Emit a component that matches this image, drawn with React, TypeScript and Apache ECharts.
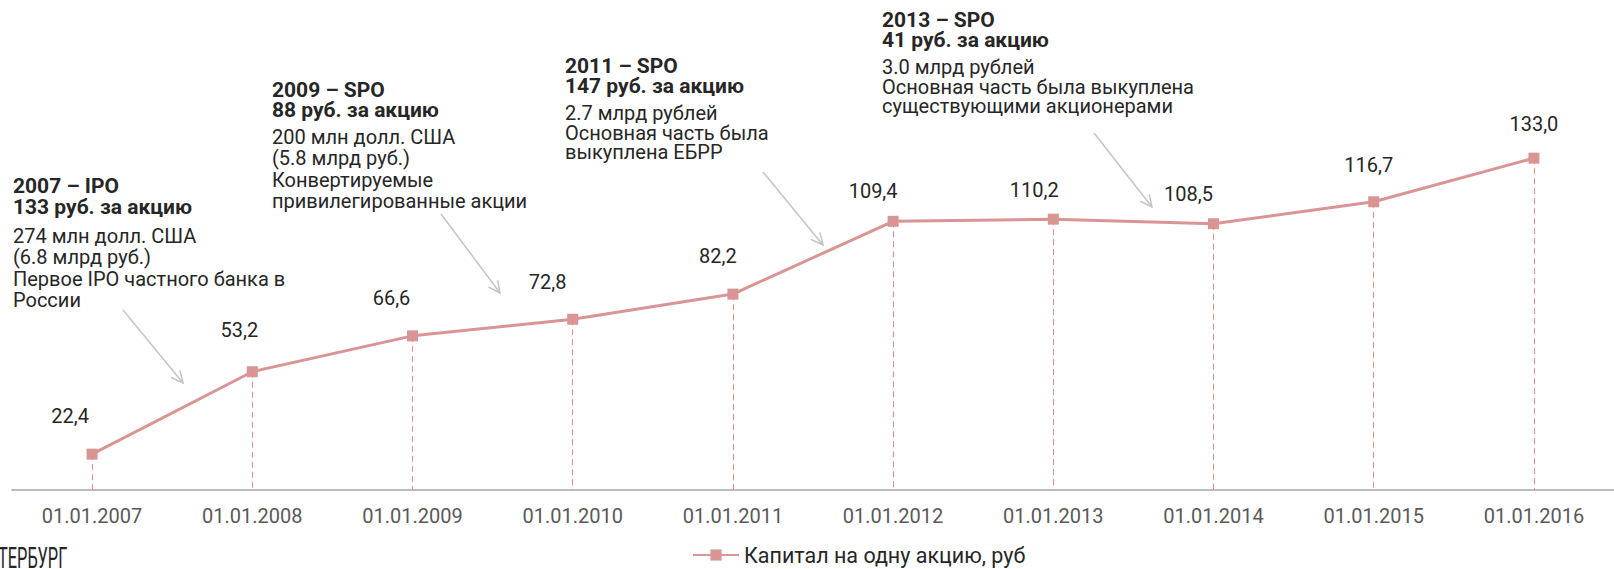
import React, { useEffect, useRef } from "react";
import * as echarts from "echarts";

const categories = [
  "01.01.2007", "01.01.2008", "01.01.2009", "01.01.2010", "01.01.2011",
  "01.01.2012", "01.01.2013", "01.01.2014", "01.01.2015", "01.01.2016",
];
const capitalPerShare = [22.4, 53.2, 66.6, 72.8, 82.2, 109.4, 110.2, 108.5, 116.7, 133.0];
const seriesName = "Капитал на одну акцию, руб";

const note2007Head = ["2007 – IPO", "133 руб. за акцию"];
const note2007Body = ["274 млн долл. США", "(6.8 млрд руб.)", "Первое IPO частного банка в", "России"];
const note2009Head = ["2009 – SPO", "88 руб. за акцию"];
const note2009Body = ["200 млн долл. США", "(5.8 млрд руб.)", "Конвертируемые", "привилегированные акции"];
const note2011Head = ["2011 – SPO", "147 руб. за акцию"];
const note2011Body = ["2.7 млрд рублей", "Основная часть была", "выкуплена ЕБРР"];
const note2013Head = ["2013 – SPO", "41 руб. за акцию"];
const note2013Body = ["3.0 млрд рублей", "Основная часть была выкуплена", "существующими акционерами"];
const footerText = "ТЕРБУРГ";

// layout (pixel positions) — not data
const labelOffsets: [number, number][] = [
  [-22, -38], [-13, -42], [-21, -38], [-25, -37], [-15, -38],
  [-20, -30], [-19, -29], [-25, -30], [-5, -37], [0, -34],
];
const notes = [
  { head: note2007Head, body: note2007Body, x: 13, y: 193, headLH: 21, bodyGap: 50, bodyLH: 21.3 },
  { head: note2009Head, body: note2009Body, x: 272, y: 97, headLH: 20, bodyGap: 47, bodyLH: 21.3 },
  { head: note2011Head, body: note2011Body, x: 565, y: 73, headLH: 20, bodyGap: 47, bodyLH: 19.5 },
  { head: note2013Head, body: note2013Body, x: 882, y: 27, headLH: 20, bodyGap: 47, bodyLH: 19.5 },
];
const arrows = [
  [123, 310, 183, 383],
  [441, 214, 500, 293],
  [763, 172, 823, 245],
  [1094, 133, 1152, 207],
];

const FONT = "Roboto, 'Noto Sans', sans-serif";
const LINE_COLOR = "#D99594";
const Y_MIN = 9;
const Y_MAX = 185;

function buildGraphics() {
  const els: any[] = [];
  notes.forEach((n) => {
    els.push({
      type: "text",
      x: n.x,
      y: n.y - 7 - n.headLH / 2,
      silent: true,
      style: {
        text: n.head.join("\n"),
        fontFamily: FONT,
        fontSize: 21,
        lineHeight: n.headLH,
        fontWeight: "bold",
        fill: "#262626",
        verticalAlign: "top",
        align: "left",
      },
    });
    els.push({
      type: "text",
      x: n.x,
      y: n.y + n.bodyGap - 7 - n.bodyLH / 2,
      silent: true,
      style: {
        text: n.body.join("\n"),
        fontFamily: FONT,
        fontSize: 20,
        lineHeight: n.bodyLH,
        fontWeight: "normal",
        fill: "#262626",
        verticalAlign: "top",
        align: "left",
      },
    });
  });
  arrows.forEach(([x1, y1, x2, y2]) => {
    const ang = Math.atan2(y2 - y1, x2 - x1);
    const len = 13;
    const spread = 0.45;
    const p1 = [x2 - len * Math.cos(ang - spread), y2 - len * Math.sin(ang - spread)];
    const p2 = [x2 - len * Math.cos(ang + spread), y2 - len * Math.sin(ang + spread)];
    els.push({
      type: "line",
      silent: true,
      shape: { x1, y1, x2, y2 },
      style: { stroke: "#C4C4C4", lineWidth: 1.5 },
    });
    els.push({
      type: "polyline",
      silent: true,
      shape: { points: [p1, [x2, y2], p2] },
      style: { stroke: "#C4C4C4", lineWidth: 1.5, fill: "none" },
    });
  });
  els.push({
    type: "text",
    x: -2,
    y: 543,
    scaleX: 0.78,
    scaleY: 1.4,
    silent: true,
    style: {
      text: footerText,
      fontFamily: FONT,
      fontSize: 21,
      fill: "#262626",
      verticalAlign: "top",
      align: "left",
    },
  });
  return els;
}

export default function App() {
  const ref = useRef<HTMLDivElement>(null);
  useEffect(() => {
    if (!ref.current) return;
    const chart = echarts.init(ref.current, null, { renderer: "svg" });
    const option: any = {
      animation: false,
      backgroundColor: "#ffffff",
      textStyle: { fontFamily: FONT },
      grid: { left: 12, top: 19, width: 1606, height: 471, containLabel: false },
      legend: {
        data: [seriesName],
        left: 692,
        top: 544,
        padding: 0,
        itemWidth: 46,
        itemHeight: 14,
        textStyle: { fontFamily: FONT, fontSize: 21.5, color: "#262626" },
      },
      xAxis: {
        type: "category",
        data: categories,
        boundaryGap: true,
        axisLine: { lineStyle: { color: "#A6A6A6", width: 1.5 } },
        axisTick: { alignWithLabel: true, length: 5, lineStyle: { color: "#A6A6A6", width: 1.5 } },
        axisLabel: { fontFamily: FONT, fontSize: 20, color: "#595959", margin: 16, interval: 0 },
        splitLine: { show: false },
      },
      yAxis: {
        type: "value",
        min: Y_MIN,
        max: Y_MAX,
        show: false,
        splitLine: { show: false },
      },
      series: [
        {
          name: seriesName,
          type: "line",
          data: capitalPerShare.map((v, i) => ({
            value: v,
            label: { offset: labelOffsets[i] },
          })),
          symbol: "rect",
          symbolSize: 11,
          lineStyle: { color: LINE_COLOR, width: 3 },
          itemStyle: { color: LINE_COLOR },
          label: {
            show: true,
            position: "inside",
            fontFamily: FONT,
            fontSize: 20,
            color: "#262626",
            formatter: (p: any) => Number(p.value).toFixed(1).replace(".", ","),
          },
          markLine: {
            silent: true,
            symbol: ["none", "none"],
            label: { show: false },
            lineStyle: { color: "#E8888A", type: [6, 4], width: 1 },
            data: capitalPerShare.map((v, i) => [
              { coord: [i, v] },
              { coord: [i, Y_MIN] },
            ]),
          },
          z: 3,
        },
      ],
      graphic: buildGraphics(),
    };
    chart.setOption(option);
    return () => chart.dispose();
  }, []);
  return (
    <div
      ref={ref}
      style={{ position: "fixed", left: 0, top: 0, width: 1614, height: 569, overflow: "hidden" }}
    />
  );
}
